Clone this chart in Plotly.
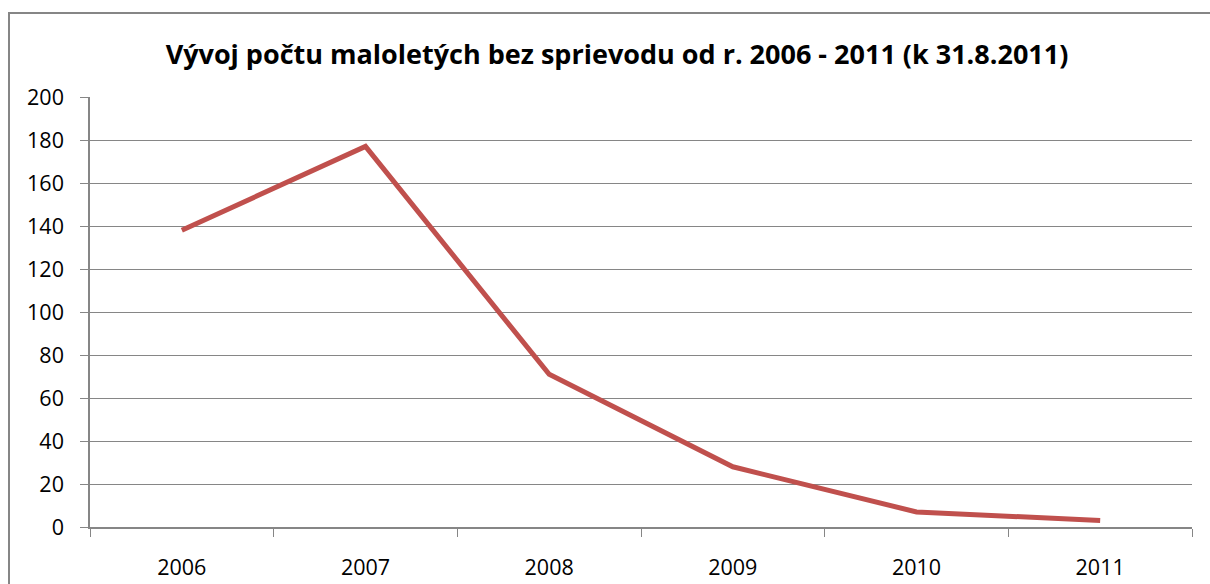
import plotly.graph_objects as go

years = ["2006", "2007", "2008", "2009", "2010", "2011"]
counts = [138, 177, 71, 28, 7, 3]
title_text = "Vývoj počtu maloletých bez sprievodu od r. 2006 - 2011 (k 31.8.2011)"

W, H = 1210, 584
L, R, T, B = 90, 1192, 97, 527

def px_x(p):
    return (p - L) / (R - L)

def px_y(p):
    return (B - p) / (B - T)

fig = go.Figure()
fig.add_trace(go.Scatter(
    x=years, y=counts, mode="lines",
    line=dict(color="#C0504D", width=5),
    hoverinfo="x+y", showlegend=False,
))

grid = "#868686"
fig.update_layout(
    width=W, height=H,
    margin=dict(l=L, r=W - R, t=T, b=H - B, autoexpand=False),
    paper_bgcolor="white", plot_bgcolor="white",
    font=dict(family="Open Sans, sans-serif", color="black", size=21),
    title=dict(text="<b>" + title_text + "</b>", x=px_x(617), xref="paper", xanchor="center",
               y=1 - 55 / H, yanchor="middle", font=dict(size=27)),
    xaxis=dict(type="category", range=[-0.5, 5.5], tickson="boundaries", ticks="outside", ticklen=8,
               tickcolor=grid, showline=True, linecolor=grid, linewidth=1.5, automargin=False,
               showgrid=False, ticklabelstandoff=20, tickfont=dict(size=21.5)),
    yaxis=dict(range=[0, 200], dtick=20, ticks="outside", ticklen=8, tickcolor=grid,
               showline=True, linecolor=grid, linewidth=1.5, showgrid=True, automargin=False,
               gridcolor=grid, gridwidth=1.2, zeroline=False,
               ticklabelstandoff=12, tickfont=dict(size=21.5)),
    shapes=[dict(type="rect", xref="paper", yref="paper",
                 x0=px_x(9), x1=px_x(1230), y0=px_y(620), y1=px_y(13),
                 line=dict(color=grid, width=2), fillcolor="rgba(0,0,0,0)", layer="below")],
)

fig.write_html("out.html", config={"displayModeBar": False})
with open("out.html", encoding="utf-8") as f:
    html = f.read()
html = html.replace("<head>", "<head><style>html,body{margin:0;padding:0;overflow:hidden;}</style>", 1)
with open("out.html", "w", encoding="utf-8") as f:
    f.write(html)
